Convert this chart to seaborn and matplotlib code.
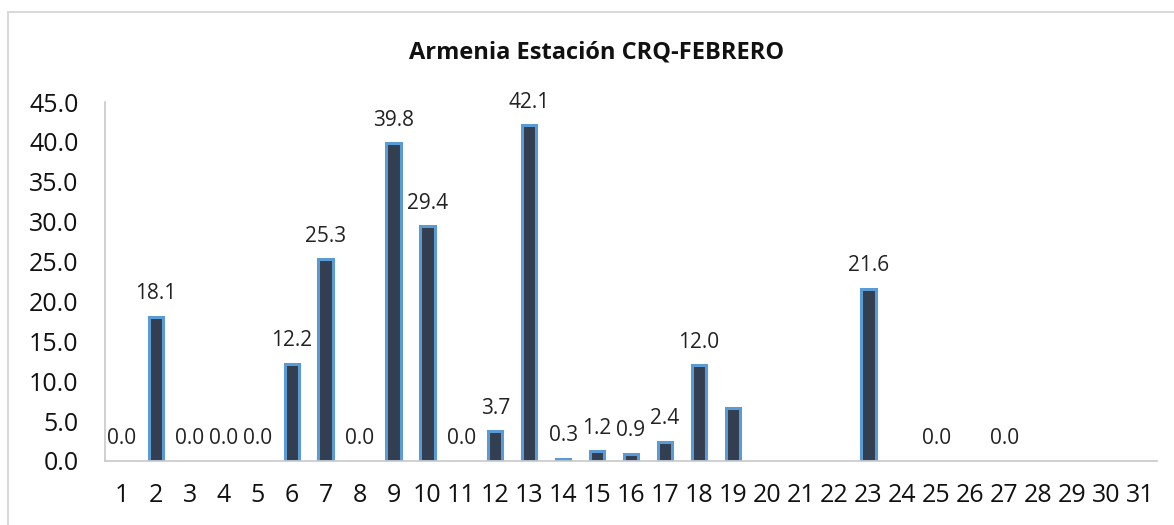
import numpy as np
import pandas as pd
import matplotlib
matplotlib.use("Agg")
import matplotlib.pyplot as plt
from matplotlib.patches import Rectangle
import seaborn as sns

# Daily rainfall values (NaN = no data / no bar)
days = [str(d) for d in range(1, 32)]
values = [0.0, 18.1, 0.0, 0.0, 0.0, 12.2, 25.3, 0.0, 39.8, 29.4,
          0.0, 3.7, 42.1, 0.3, 1.2, 0.9, 2.4, 12.0, 6.6, np.nan,
          np.nan, np.nan, 21.6, np.nan, 0.0, np.nan, 0.0, np.nan, np.nan, np.nan,
          np.nan]
# Data labels as shown on the chart (day 19 has no label)
labels = ["0.0", "18.1", "0.0", "0.0", "0.0", "12.2", "25.3", "0.0", "39.8", "29.4",
          "0.0", "3.7", "42.1", "0.3", "1.2", "0.9", "2.4", "12.0", "", "",
          "", "", "21.6", "", "0.0", "", "0.0", "", "", "",
          ""]
title = "Armenia Estación CRQ-FEBRERO"
yticks = [0, 5, 10, 15, 20, 25, 30, 35, 40, 45]

df = pd.DataFrame({"day": days, "value": values, "label": labels})

sns.set_theme(style="white")
plt.rcParams["font.family"] = ["Open Sans", "DejaVu Sans"]

fig = plt.figure(figsize=(11.74, 5.25), dpi=100)
ax = fig.add_axes([105 / 1174, 1 - 461 / 525, (1157 - 105) / 1174, (461 - 102) / 525])

sns.barplot(data=df, x="day", y="value", order=days, ax=ax,
            color="#333F50", edgecolor="#5B9BD5", linewidth=2.2, width=0.42,
            saturation=1)

# zero-height bars show no outline in the original
for p in ax.patches:
    if p.get_height() == 0:
        p.set_linewidth(0)

for i, (v, lab) in enumerate(zip(df["value"], df["label"])):
    if lab:
        ax.annotate(lab, (i, v), xytext=(0, 9), textcoords="offset points",
                    ha="center", va="bottom", fontsize=15, color="#222222")

ax.set_xlim(-0.5, 30.5)
ax.set_ylim(0, 45)
ax.set_yticks(yticks)
ax.set_yticklabels([f"{t:.1f}" for t in yticks])
ax.tick_params(axis="both", length=0, labelsize=18, colors="#111111")
ax.tick_params(axis="y", pad=19)
ax.tick_params(axis="x", pad=16)
ax.set_xlabel("")
ax.set_ylabel("")
for s in ["top", "right"]:
    ax.spines[s].set_visible(False)
for s in ["left", "bottom"]:
    ax.spines[s].set_color("#C8C8C8")
    ax.spines[s].set_linewidth(1.2)

fig.text(597 / 1174, 1 - 52 / 525, title, ha="center", va="center",
         fontsize=17, fontweight="bold", color="#111111")

fig.patches.append(Rectangle((8 / 1174, -0.05), 1.1, 1 - 12 / 525 + 0.05,
                             transform=fig.transFigure, fill=False,
                             edgecolor="#D9D9D9", linewidth=1.5))

fig.savefig("out.png", dpi=100)
